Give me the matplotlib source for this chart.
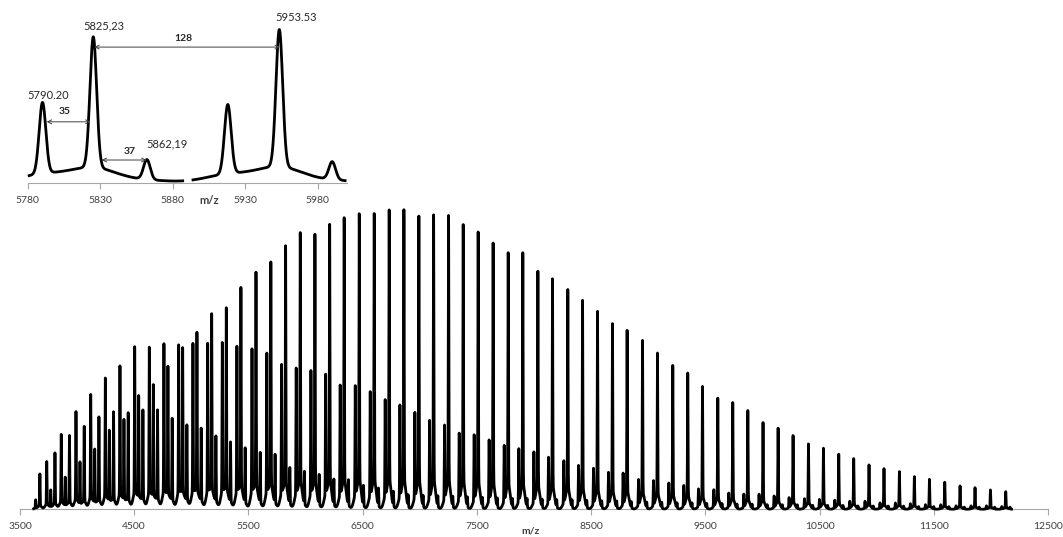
import numpy as np
import matplotlib.pyplot as plt

plt.rcParams['font.family'] = ['Lato', 'DejaVu Sans']

# main series (tallest peaks), m/z and intensity
a_mz = [3637, 3769, 3896, 4025, 4154, 4282, 4410, 4539, 4667, 4795, 4924, 5049,
        5178, 5306, 5434, 5566, 5696, 5825.23, 5953.53, 6082, 6211, 6338, 6470,
        6601, 6732, 6861, 6992, 7121, 7252, 7380, 7511, 7642, 7774, 7902, 8034,
        8162, 8296, 8425, 8556, 8687, 8815, 8950, 9081, 9215, 9346, 9475, 9609,
        9740, 9872, 10005, 10137, 10268, 10403, 10534, 10668, 10799, 10933,
        11064, 11199, 11330, 11462, 11596, 11730, 11861, 11996, 12130]
a_int = [9.3, 18.6, 31, 46, 58.6, 77.3, 88, 111.6, 122.6, 141, 159.6, 175,
         193.6, 199.6, 220, 235.3, 245.6, 262, 275.3, 273.6, 283.6, 290.3, 294.3,
         294.6, 298.3, 298.6, 292.3, 293.6, 293, 284, 276.6, 265.6, 256, 256,
         237.6, 230, 219.3, 208.6, 197.6, 185.3, 178.6, 168.6, 156, 143.6, 136,
         122.6, 111, 106.6, 98.6, 86.6, 81, 73.6, 65.3, 61, 55, 50.6, 44.3, 40.6,
         37.6, 32.6, 30, 27, 23.3, 21.6, 19.3, 17.6]

# series 35 below the main one
b_mz = [3734, 3861, 3990, 4119, 4247, 4375, 4504, 4632, 4760, 4889, 5014, 5143,
        5271, 5399, 5531, 5661, 5790.20, 5918, 6047, 6176, 6303, 6435, 6566,
        6697, 6826, 6957, 7086, 7217, 7345, 7476, 7607, 7739, 7867, 7999, 8127,
        8261, 8390, 8521, 8652, 8780, 8915, 9046, 9180, 9311, 9440, 9574, 9705,
        9837, 9970, 10102, 10233, 10368, 10499, 10633, 10764, 10898, 11029,
        11164, 11295, 11427, 11561, 11695, 11826, 11961, 12095]
b_int = [47.6, 74.6, 97.3, 114.3, 130.6, 142.6, 161.6, 161, 164.3, 163, 164.3,
         164.3, 165, 161, 158.3, 154, 142.6, 139, 136.3, 132.6, 121.6, 121, 115,
         107, 101.6, 94.3, 86.3, 81.6, 73.6, 72, 67, 61.6, 58.3, 55.3, 50, 46.6,
         42, 39.3, 35.3, 34.6, 28.3, 27.3, 25, 22.6, 19.3, 18.6, 15.3, 14.3, 14.3,
         12.6, 11, 10, 9.3, 8.6, 7.6, 7.6, 6, 6, 5.3, 4.3, 4.3, 3.3, 3.3, 3.3, 2.6]

# series 37 above the main one
c_mz = [3674, 3806, 3933, 4062, 4191, 4319, 4447, 4576, 4704, 4832, 4961, 5086,
        5215, 5343, 5471, 5603, 5733, 5862.19, 5990, 6119, 6248, 6375, 6507,
        6638, 6769, 6898, 7029, 7158, 7289, 7417, 7548, 7679, 7811, 7939, 8071,
        8199, 8333, 8462, 8593, 8724, 8852, 8987, 9118, 9252, 9383, 9512, 9646,
        9777, 9909, 10042, 10174, 10305, 10440, 10571, 10705, 10836, 10970,
        11101, 11236, 11367, 11499, 11633, 11767, 11898, 12033, 12167]
c_int = [35.3, 56.3, 73.6, 82.6, 92, 97, 96, 98.6, 98.6, 90, 83.3, 80, 72, 66,
         60, 55.3, 53.3, 40, 36, 33, 28.3, 27.6, 22, 19.3, 16, 12.6, 12,
         11.5, 11, 10.5, 10, 9.5, 9, 9, 8.5, 8, 8, 7.5, 7, 7, 6.5, 6, 6, 5.5, 5.5,
         5, 5, 4.5, 4.5, 4, 4, 4, 3.5, 3.5, 3.5, 3, 3, 3, 3, 2.5, 2.5, 2.5, 2, 2,
         2, 2]

mz_start, mz_end = 3620, 12180
inset_start, inset_end = 5781, 5999
gap_start, gap_end = 5887, 5894

main_ticks = [3500, 4500, 5500, 6500, 7500, 8500, 9500, 10500, 11500, 12500]
inset_ticks = [5780, 5830, 5880, 5930, 5980]

AXIS_GREY = '#a6a6a6'
TEXT_GREY = '#404040'


def spectrum(x, centres, heights):
    # narrow core plus a broad foot under every peak
    y = np.zeros_like(x)
    for c, h in zip(centres, heights):
        d = x - c
        y += h * (0.90 * np.exp(-d ** 2 / (2 * 2.3 ** 2))
                  + 0.10 * np.exp(-d ** 2 / (2 * 16.0 ** 2)))
    return y


def total(x):
    return (spectrum(x, a_mz, a_int) + spectrum(x, b_mz, b_int)
            + spectrum(x, c_mz, c_int))


def style_axis(ax, size, pad):
    for s in ['top', 'left', 'right']:
        ax.spines[s].set_visible(False)
    ax.spines['bottom'].set_color(AXIS_GREY)
    ax.spines['bottom'].set_linewidth(0.8)
    ax.set_yticks([])
    ax.tick_params(axis='x', direction='out', length=4, width=0.8,
                   color=AXIS_GREY, labelsize=size, labelcolor=TEXT_GREY, pad=pad)
    ax.set_facecolor('none')


fig = plt.figure(figsize=(10.63, 5.37), dpi=100)
W, H = 1063, 537

# main spectrum
ax = fig.add_axes([20 / W, (H - 509.3) / H, 1028 / W, 304.3 / H])
x = np.arange(mz_start, mz_end, 0.25)
ax.plot(x, total(x), color='black', lw=2.0, zorder=3, clip_on=False)
ax.set_xlim(3500, 12500)
ax.set_ylim(0, 304.3)
ax.set_xticks(main_ticks)
style_axis(ax, 7.5, 5.5)
fig.text(530 / W, 1 - 530.5 / H, 'm/z', ha='center', va='center', fontsize=7.5,
         fontweight='bold', color=TEXT_GREY)

# zoomed inset
ins = fig.add_axes([27.7 / W, (H - 182.7) / H, 319 / W, 172.7 / H])
xi = np.arange(inset_start, inset_end, 0.1)
yi = total(xi)
yi[(xi > gap_start) & (xi < gap_end)] = np.nan
ins.plot(xi, yi, color='black', lw=2.0, zorder=3, clip_on=False)
ins.set_xlim(5780, 6000)
ins.set_ylim(0, 312)
ins.set_xticks(inset_ticks)
style_axis(ins, 7.5, 5.5)
fig.text(209 / W, 1 - 201 / H, 'm/z', ha='center', va='center', fontsize=8,
         fontweight='bold', color=TEXT_GREY)

# label positions are in inset data units (1 unit = 172.7/312 px)
label_kw = dict(ha='center', va='center', fontsize=8, color='#262626')
ins.text(5794.2, 157, '5790.20', **label_kw)
ins.text(5832.6, 284, '5825,23', **label_kw)
ins.text(5964.8, 299, '5953.53', **label_kw)
ins.text(5875.9, 70, '5862,19', **label_kw)

bold_kw = dict(ha='center', va='center', fontsize=7.5, fontweight='bold',
               color='#262626')
ins.text(5805.7, 128, '35', **bold_kw)
ins.text(5850.6, 56.5, '37', **bold_kw)
ins.text(5887.3, 260, '128', **bold_kw)

arrow_kw = dict(arrowstyle='<->', lw=0.7, color=TEXT_GREY, mutation_scale=7,
                shrinkA=0, shrinkB=0)
ins.annotate('', xy=(5793.1, 110), xytext=(5823.4, 110), arrowprops=arrow_kw)
ins.annotate('', xy=(5831, 41), xytext=(5862, 41), arrowprops=arrow_kw)
ins.annotate('', xy=(5825.9, 245), xytext=(5954, 245), arrowprops=arrow_kw)

fig.savefig('out.png', dpi=100)
